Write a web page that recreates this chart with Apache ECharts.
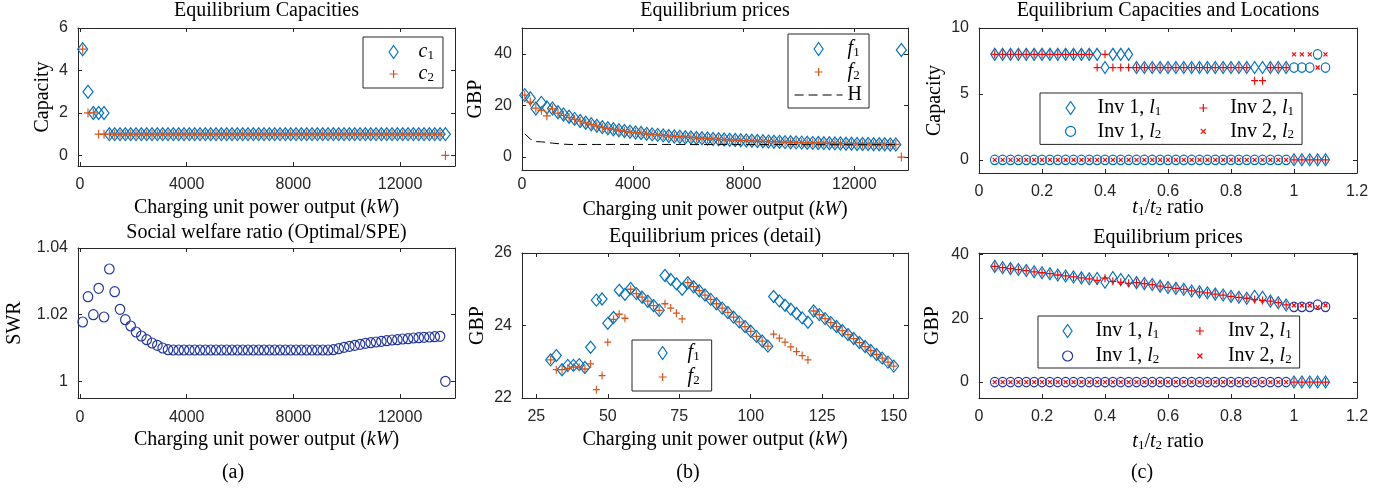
<!DOCTYPE html>
<html>
<head>
<meta charset="UTF-8">
<title>Equilibrium results</title>
<script src="https://cdn.jsdelivr.net/npm/echarts@6/dist/echarts.min.js"></script>
<style>
    html, body { margin: 0; padding: 0; background: #fff; }
    #chart { width: 1396px; height: 490px; }
</style>
</head>
<body>
<div id="chart"></div>
<script>
// ---------- data ----------
// (a)/(b) top: charging unit power output, kW
const powerX = [
    100, 300, 500, 700, 900, 1100, 1300, 1500, 1700, 1900,
    2100, 2300, 2500, 2700, 2900, 3100, 3300, 3500, 3700, 3900,
    4100, 4300, 4500, 4700, 4900, 5100, 5300, 5500, 5700, 5900,
    6100, 6300, 6500, 6700, 6900, 7100, 7300, 7500, 7700, 7900,
    8100, 8300, 8500, 8700, 8900, 9100, 9300, 9500, 9700, 9900,
    10100, 10300, 10500, 10700, 10900, 11100, 11300, 11500, 11700, 11900,
    12100, 12300, 12500, 12700, 12900, 13100, 13300, 13500, 13700
];
const capC1 = [
    5, 3, 2, 2, 2, 1, 1, 1, 1, 1,
    1, 1, 1, 1, 1, 1, 1, 1, 1, 1,
    1, 1, 1, 1, 1, 1, 1, 1, 1, 1,
    1, 1, 1, 1, 1, 1, 1, 1, 1, 1,
    1, 1, 1, 1, 1, 1, 1, 1, 1, 1,
    1, 1, 1, 1, 1, 1, 1, 1, 1, 1,
    1, 1, 1, 1, 1, 1, 1, 1, 1
];
const capC2 = [
    5, 2, 2, 1, 1, 1, 1, 1, 1, 1,
    1, 1, 1, 1, 1, 1, 1, 1, 1, 1,
    1, 1, 1, 1, 1, 1, 1, 1, 1, 1,
    1, 1, 1, 1, 1, 1, 1, 1, 1, 1,
    1, 1, 1, 1, 1, 1, 1, 1, 1, 1,
    1, 1, 1, 1, 1, 1, 1, 1, 1, 1,
    1, 1, 1, 1, 1, 1, 1, 1, 0
];
const swr = [
    1.0178, 1.0254, 1.0200, 1.0279, 1.0193, 1.0337, 1.0269, 1.0216, 1.0185, 1.0166,
    1.0148, 1.0136, 1.0125, 1.0115, 1.0108, 1.0100, 1.0095, 1.0094, 1.0094, 1.0094,
    1.0094, 1.0094, 1.0094, 1.0094, 1.0094, 1.0094, 1.0094, 1.0094, 1.0094, 1.0094,
    1.0094, 1.0094, 1.0094, 1.0094, 1.0094, 1.0094, 1.0094, 1.0094, 1.0094, 1.0094,
    1.0094, 1.0094, 1.0094, 1.0094, 1.0094, 1.0094, 1.0094, 1.0095, 1.0098, 1.0102,
    1.0105, 1.0108, 1.0111, 1.0114, 1.0116, 1.0118, 1.0120, 1.0122, 1.0124, 1.0125,
    1.0127, 1.0128, 1.0130, 1.0131, 1.0132, 1.0133, 1.0134, 1.0135, 1.0000
];
const priceF1 = [
    24.0, 22.8, 18.8, 21.0, 19.2, 18.8, 17.4, 16.5, 15.6, 14.8,
    14.0, 13.3, 12.7, 12.1, 11.6, 11.2, 10.8, 10.4, 10.1, 9.8,
    9.5, 9.3, 9.0, 8.8, 8.6, 8.4, 8.2, 8.0, 7.9, 7.7,
    7.6, 7.4, 7.3, 7.2, 7.0, 6.9, 6.8, 6.7, 6.6, 6.5,
    6.4, 6.3, 6.2, 6.1, 6.0, 5.95, 5.9, 5.8, 5.75, 5.7,
    5.6, 5.55, 5.5, 5.45, 5.4, 5.35, 5.3, 5.25, 5.2, 5.15,
    5.1, 5.1, 5.05, 5.0, 5.0, 4.95, 4.9, 4.9, 41.5
];
const priceF2 = [
    24.0, 21.3, 19.0, 18.1, 16.0, 18.7, 17.0, 16.2, 15.3, 14.6,
    13.9, 13.2, 12.6, 12.0, 11.5, 11.1, 10.7, 10.3, 10.0, 9.7,
    9.5, 9.3, 9.0, 8.8, 8.6, 8.4, 8.2, 8.0, 7.9, 7.7,
    7.6, 7.4, 7.3, 7.2, 7.0, 6.9, 6.8, 6.7, 6.6, 6.5,
    6.4, 6.3, 6.2, 6.1, 6.0, 5.95, 5.9, 5.8, 5.75, 5.7,
    5.6, 5.55, 5.5, 5.45, 5.4, 5.35, 5.3, 5.25, 5.2, 5.15,
    5.1, 5.1, 5.05, 5.0, 5.0, 4.95, 4.9, 4.9, 0
];
// H curve, drawn up to 13500 kW
const priceH = [
    9.0, 7.0, 6.0, 5.9, 5.7, 5.4, 5.2, 5.0, 4.9, 4.9,
    4.9, 4.9, 4.9, 4.9, 4.9, 4.9, 4.9, 4.9, 4.9, 4.9,
    4.9, 4.9, 4.9, 4.9, 4.9, 4.9, 4.9, 4.9, 4.9, 4.9,
    4.85, 4.85, 4.85, 4.85, 4.85, 4.85, 4.85, 4.85, 4.85, 4.85,
    4.85, 4.85, 4.85, 4.85, 4.85, 4.85, 4.85, 4.85, 4.85, 4.85,
    4.8, 4.8, 4.8, 4.8, 4.8, 4.8, 4.8, 4.8, 4.8, 4.8,
    4.8, 4.8, 4.8, 4.8, 4.8, 4.8, 4.8, 4.8
];

// (b) bottom: detail, kW
const detailX = [
    30, 32, 34, 36, 38, 40, 42, 44, 46, 48,
    50, 52, 54, 56, 58, 60, 62, 64, 66, 68,
    70, 72, 74, 76, 78, 80, 82, 84, 86, 88,
    90, 92, 94, 96, 98, 100, 102, 104, 106, 108,
    110, 112, 114, 116, 118, 120, 122, 124, 126, 128,
    130, 132, 134, 136, 138, 140, 142, 144, 146, 148,
    150
];
const detailF1 = [
    23.05, 23.17, 22.78, 22.90, 22.90, 22.92, 22.84, 23.40, 24.70, 24.73,
    24.06, 24.22, 24.97, 24.86, 25.02, 24.88, 24.78, 24.67, 24.55, 24.42,
    25.38, 25.27, 25.15, 25.00, 25.18, 25.07, 24.96, 24.84, 24.72, 24.60,
    24.48, 24.36, 24.23, 24.10, 23.97, 23.84, 23.70, 23.57, 23.43, 24.80,
    24.68, 24.56, 24.45, 24.33, 24.21, 24.09, 24.40, 24.30, 24.19, 24.08,
    23.97, 23.86, 23.75, 23.64, 23.53, 23.42, 23.31, 23.20, 23.10, 22.99,
    22.88
];
const detailF2 = [
    23.05, 22.78, 22.78, 22.82, 22.85, 22.85, 22.80, 22.94, 22.23, 22.62,
    23.54, 24.17, 24.31, 24.20, 25.00, 24.88, 24.78, 24.67, 24.55, 24.42,
    24.60, 24.48, 24.34, 24.18, 25.18, 25.07, 24.96, 24.84, 24.72, 24.60,
    24.48, 24.36, 24.23, 24.10, 23.97, 23.84, 23.70, 23.57, 23.43, 23.76,
    23.65, 23.54, 23.41, 23.28, 23.17, 23.05, 24.40, 24.30, 24.19, 24.08,
    23.97, 23.86, 23.75, 23.64, 23.53, 23.42, 23.31, 23.20, 23.10, 22.99,
    22.88
];

// (c): t1/t2 ratio
const ratioX = [
    0.05, 0.075, 0.1, 0.125, 0.15, 0.175, 0.2, 0.225, 0.25, 0.275,
    0.3, 0.325, 0.35, 0.375, 0.4, 0.425, 0.45, 0.475, 0.5, 0.525,
    0.55, 0.575, 0.6, 0.625, 0.65, 0.675, 0.7, 0.725, 0.75, 0.775,
    0.8, 0.825, 0.85, 0.875, 0.9, 0.925, 0.95, 0.975, 1, 1.025,
    1.05, 1.075, 1.1
];
const capInv1L1 = [
    8, 8, 8, 8, 8, 8, 8, 8, 8, 8,
    8, 8, 8, 8, 7, 8, 8, 8, 7, 7,
    7, 7, 7, 7, 7, 7, 7, 7, 7, 7,
    7, 7, 7, 7, 7, 7, 7, 7, 0, 0,
    0, 0, 0
];
const capInv2L1 = [
    8, 8, 8, 8, 8, 8, 8, 8, 8, 8,
    8, 8, 8, 7, 8, 7, 7, 7, 7, 7,
    7, 7, 7, 7, 7, 7, 7, 7, 7, 7,
    7, 7, 7, 6, 6, 7, 7, 7, 0, 0,
    0, 0, 0
];
const capInv1L2 = [
    0, 0, 0, 0, 0, 0, 0, 0, 0, 0,
    0, 0, 0, 0, 0, 0, 0, 0, 0, 0,
    0, 0, 0, 0, 0, 0, 0, 0, 0, 0,
    0, 0, 0, 0, 0, 0, 0, 0, 7, 7,
    7, 8, 7
];
const capInv2L2 = [
    0, 0, 0, 0, 0, 0, 0, 0, 0, 0,
    0, 0, 0, 0, 0, 0, 0, 0, 0, 0,
    0, 0, 0, 0, 0, 0, 0, 0, 0, 0,
    0, 0, 0, 0, 0, 0, 0, 0, 8, 8,
    8, 7, 8
];
const priceInv1L1 = [
    36.3, 35.9, 35.6, 35.3, 35.0, 34.6, 34.3, 34.0, 33.6, 33.3,
    33.0, 32.7, 32.4, 32.5, 31.3, 32.8, 32.2, 31.8, 31.2, 30.9,
    30.6, 30.1, 29.7, 29.4, 29.1, 28.6, 28.3, 28.0, 27.6, 27.3,
    26.9, 26.6, 26.3, 26.9, 26.6, 25.4, 24.9, 24.2, 0, 0,
    0, 0, 0
];
const priceInv2L1 = [
    36.3, 35.9, 35.6, 35.3, 35.0, 34.6, 34.3, 34.0, 33.6, 33.3,
    33.0, 32.7, 32.4, 31.9, 32.6, 31.6, 31.3, 31.0, 31.2, 30.9,
    30.6, 30.1, 29.7, 29.4, 29.1, 28.6, 28.3, 28.0, 27.6, 27.3,
    26.9, 26.6, 26.3, 25.9, 25.6, 25.4, 24.9, 24.2, 0, 0,
    0, 0, 0
];
const priceInv1L2 = [
    0, 0, 0, 0, 0, 0, 0, 0, 0, 0,
    0, 0, 0, 0, 0, 0, 0, 0, 0, 0,
    0, 0, 0, 0, 0, 0, 0, 0, 0, 0,
    0, 0, 0, 0, 0, 0, 0, 0, 23.6, 23.6,
    23.6, 24.3, 23.6
];
const priceInv2L2 = [
    0, 0, 0, 0, 0, 0, 0, 0, 0, 0,
    0, 0, 0, 0, 0, 0, 0, 0, 0, 0,
    0, 0, 0, 0, 0, 0, 0, 0, 0, 0,
    0, 0, 0, 0, 0, 0, 0, 0, 24.1, 24.1,
    24.1, 23.5, 24.1
];

// tick labels
const powerTicks = [0, 4000, 8000, 12000];
const detailTicks = [25, 50, 75, 100, 125, 150];
const ratioTicks = [0, 0.2, 0.4, 0.6, 0.8, 1, 1.2];
const capTicks = [0, 2, 4, 6];
const swrTicks = [1, 1.02, 1.04];
const gbpTicks = [0, 20, 40];
const detailGbpTicks = [22, 24, 26];
const locCapTicks = [0, 5, 10];

// ---------- style ----------
const SERIF = 'Liberation Serif';
const SANS = 'Liberation Sans';
const AX = '#262626';
const BLUE = '#0072BD';
const ORANGE = '#D95319';
const RED = '#FF0000';
const NAVY = '#23389e';
const PLUS = 'path://M5,0L5,10M0,5L10,5';
const CROSS = 'path://M0,0L10,10M10,0L0,10';

// legend icons drawn in a box of the legend's itemWidth x itemHeight,
// the corner move-to points keep the box so nothing gets stretched
const ICON_H = 14;
function legendIcon(kind, w) {
    const cx = w / 2, cy = ICON_H / 2;
    let d;
    if (kind === 'diamond') {
        d = `M${cx},${cy - 6.5}L${cx + 4.5},${cy}L${cx},${cy + 6.5}L${cx - 4.5},${cy}Z`;
    } else if (kind === 'plus') {
        d = `M${cx},${cy - 4}L${cx},${cy + 4}M${cx - 4},${cy}L${cx + 4},${cy}`;
    } else if (kind === 'cross') {
        d = `M${cx - 2.5},${cy - 2.5}L${cx + 2.5},${cy + 2.5}M${cx + 2.5},${cy - 2.5}L${cx - 2.5},${cy + 2.5}`;
    } else {
        d = `M${cx - 5},${cy}A5,5 0 1 1 ${cx + 5},${cy}A5,5 0 1 1 ${cx - 5},${cy}Z`;
    }
    return `path://M0,0${d}M${w},${ICON_H}`;
}

const RICH = {
    n: { fontFamily: SERIF, fontSize: 20, lineHeight: 20, color: '#000' },
    i: { fontFamily: SERIF, fontSize: 20, lineHeight: 20, fontStyle: 'italic', color: '#000' },
    s: { fontFamily: SERIF, fontSize: 13, lineHeight: 10, verticalAlign: 'bottom', color: '#000' }
};
const kwName = '{n|Charging unit power output (}{i|kW}{n|)}';
const ratioName = '{i|t}{s|1}{n|/}{i|t}{s|2}{n| ratio}';

const panels = [
    { grid: [78, 28, 377, 138], x: [-75, 14060], xt: powerTicks, y: [-0.5, 6], yt: capTicks,
      xName: kwName, yName: 'Capacity', lm: 11, xg: 32, yg: 25 },
    { grid: [78, 248, 377, 150], x: [-75, 14060], xt: powerTicks, y: [0.995, 1.04], yt: swrTicks,
      xName: kwName, yName: 'SWR', lm: 12, xg: 32, yg: 53 },
    { grid: [522, 28, 386, 142], x: [0, 13940], xt: powerTicks, y: [-5, 50], yt: gbpTicks,
      xName: kwName, yName: 'GBP', lm: 7, xg: 30, yg: 36 },
    { grid: [522, 253, 386, 145], x: [20, 155], xt: detailTicks, y: [22, 26], yt: detailGbpTicks,
      xName: kwName, yName: 'GBP', lm: 11, xg: 32, yg: 34 },
    { grid: [979, 28, 378, 145], x: [0, 1.2], xt: ratioTicks, y: [-1, 10], yt: locCapTicks,
      xName: ratioName, yName: 'Capacity', lm: 11, xg: 25, yg: 34 },
    { grid: [979, 253, 378, 145], x: [0, 1.2], xt: ratioTicks, y: [-5, 40.5], yt: gbpTicks,
      xName: ratioName, yName: 'GBP', lm: 11, xg: 34, yg: 36 }
];

function makeAxis(gi, position, range, ticks, p) {
    const main = !!p;
    const isX = position === 'bottom' || position === 'top';
    const axis = {
        type: 'value', gridIndex: gi, position: position,
        min: range[0], max: range[1],
        axisLine: { show: true, onZero: false, lineStyle: { color: AX, width: 1 } },
        axisTick: { show: true, inside: true, length: 4, customValues: ticks, lineStyle: { color: AX, width: 1 } },
        axisLabel: { show: main, customValues: ticks, fontFamily: SANS, fontSize: 16, color: AX,
                     margin: main ? (isX ? p.lm : 10) : 8,
                     formatter: v => String(v) },
        splitLine: { show: false },
        nameMoveOverlap: false
    };
    if (main) {
        axis.nameLocation = 'middle';
        if (isX) {
            axis.name = p.xName;
            axis.nameGap = p.xg;
            axis.nameTextStyle = { rich: RICH };
        } else {
            axis.name = p.yName;
            axis.nameGap = p.yg;
            axis.nameRotate = 90;
            axis.nameTextStyle = { fontFamily: SERIF, fontSize: 20, color: '#000' };
        }
    }
    return axis;
}

const grid = [], xAxis = [], yAxis = [];
panels.forEach((p, i) => {
    grid.push({ left: p.grid[0], top: p.grid[1], width: p.grid[2], height: p.grid[3] });
    xAxis.push(makeAxis(i, 'bottom', p.x, p.xt, p));
    yAxis.push(makeAxis(i, 'left', p.y, p.yt, p));
});
panels.forEach((p, i) => {
    xAxis.push(makeAxis(i, 'top', p.x, p.xt, null));
    yAxis.push(makeAxis(i, 'right', p.y, p.yt, null));
});

function pts(xs, ys) {
    return ys.map((v, k) => [xs[k], v]);
}
function scatter(name, gi, xs, ys, symbol, size, color) {
    return {
        type: 'scatter', name: name, xAxisIndex: gi, yAxisIndex: gi,
        data: pts(xs, ys), symbol: symbol, symbolSize: size, silent: true,
        itemStyle: { color: 'rgba(0,0,0,0)', borderColor: color, borderWidth: 1.2, opacity: 1 }
    };
}

const series = [
    scatter('c1', 0, powerX, capC1, 'diamond', [10, 13], BLUE),
    scatter('c2', 0, powerX, capC2, PLUS, [8, 9], ORANGE),
    scatter('swr', 1, powerX, swr, 'circle', [9.5, 10], NAVY),
    {
        type: 'line', name: 'H', xAxisIndex: 2, yAxisIndex: 2, silent: true,
        data: pts(powerX, priceH), symbol: 'none',
        itemStyle: { color: 'rgba(0,0,0,0)', borderColor: 'rgba(0,0,0,0)' },
        lineStyle: { color: '#000', width: 1, type: [9, 5] }
    },
    scatter('f1', 2, powerX, priceF1, 'diamond', [10, 13], BLUE),
    scatter('f2', 2, powerX, priceF2, PLUS, [8, 9], ORANGE),
    scatter('f1d', 3, detailX, detailF1, 'diamond', [10, 12], BLUE),
    scatter('f2d', 3, detailX, detailF2, PLUS, [7, 8], ORANGE),
    scatter('capI1L1', 4, ratioX, capInv1L1, 'diamond', [8, 12], BLUE),
    scatter('capI1L2', 4, ratioX, capInv1L2, 'circle', [8.5, 9.5], BLUE),
    scatter('capI2L1', 4, ratioX, capInv2L1, PLUS, [7, 8], RED),
    scatter('capI2L2', 4, ratioX, capInv2L2, CROSS, [4, 4], RED),
    scatter('prI1L1', 5, ratioX, priceInv1L1, 'diamond', [8, 12], BLUE),
    scatter('prI1L2', 5, ratioX, priceInv1L2, 'circle', [8.5, 9.5], NAVY),
    scatter('prI2L1', 5, ratioX, priceInv2L1, PLUS, [7, 8], RED),
    scatter('prI2L2', 5, ratioX, priceInv2L2, CROSS, [4, 4], RED)
];

// legend labels (rich text); sA / sB pad the first column of the (c) legends
const LEG_RICH = Object.assign({}, RICH, {
    sA: { fontFamily: SERIF, fontSize: 13, lineHeight: 10, verticalAlign: 'bottom', color: '#000', padding: [0, 16, 0, 0] },
    sB: { fontFamily: SERIF, fontSize: 13, lineHeight: 10, verticalAlign: 'bottom', color: '#000', padding: [0, 12, 0, 0] }
});
const legendLabel = {
    c1: '{i|c}{s|1}', c2: '{i|c}{s|2}',
    f1: '{i|f}{s|1}', f2: '{i|f}{s|2}', H: '{n|H}',
    f1d: '{i|f}{s|1}', f2d: '{i|f}{s|2}',
    capI1L1: '{n|Inv 1, }{i|l}{sA|1}', capI2L1: '{n|Inv 2, }{i|l}{s|1}',
    capI1L2: '{n|Inv 1, }{i|l}{sA|2}', capI2L2: '{n|Inv 2, }{i|l}{s|2}',
    prI1L1: '{n|Inv 1, }{i|l}{sB|1}', prI2L1: '{n|Inv 2, }{i|l}{s|1}',
    prI1L2: '{n|Inv 1, }{i|l}{sB|2}', prI2L2: '{n|Inv 2, }{i|l}{s|2}'
};

function legend(left, top, padding, itemWidth, itemGap, items, extra) {
    return Object.assign({
        left: left, top: top, padding: padding, orient: 'vertical',
        itemWidth: itemWidth, itemHeight: ICON_H, itemGap: itemGap,
        borderColor: AX, borderWidth: 1, backgroundColor: '#fff',
        selectedMode: false,
        data: items.map(it => it[1] ? { name: it[0], icon: legendIcon(it[1], itemWidth) } : { name: it[0] }),
        itemStyle: { borderWidth: 1.2 },
        lineStyle: { width: 1 },
        textStyle: { rich: LEG_RICH },
        formatter: name => legendLabel[name]
    }, extra || {});
}

const legends = [
    legend(363, 37, [5, 9, 4, 10], 40, 2, [['c1', 'diamond'], ['c2', 'plus']]),
    legend(788, 34, [5, 7, 3, 6], 48, 3, [['f1', 'diamond'], ['f2', 'plus'], ['H', null]]),
    legend(632, 340, [3, 12, 4, 10], 40, 4, [['f1d', 'diamond'], ['f2d', 'plus']]),
    legend(1040, 93, [5, 8, 3, 8], 44, 3.4,
        [['capI1L1', 'diamond'], ['capI2L1', 'plus'], ['capI1L2', 'circle'], ['capI2L2', 'cross']],
        { orient: 'horizontal', width: 250 }),
    legend(1038, 316, [5, 8, 2, 6], 46, 5,
        [['prI1L1', 'diamond'], ['prI2L1', 'plus'], ['prI1L2', 'circle'], ['prI2L2', 'cross']],
        { orient: 'horizontal', width: 250 })
];

const titleList = [
    ['Equilibrium Capacities', 266.5, 11],
    ['Social welfare ratio (Optimal/SPE)', 266.5, 233],
    ['Equilibrium prices', 715, 11],
    ['Equilibrium prices (detail)', 715, 237],
    ['Equilibrium Capacities and Locations', 1168, 11],
    ['Equilibrium prices', 1168, 238],
    ['(a)', 233, 473],
    ['(b)', 688, 473],
    ['(c)', 1142, 473]
];

const chart = echarts.init(document.getElementById('chart'), null, { renderer: 'canvas' });
chart.setOption({
    animation: false,
    backgroundColor: '#fff',
    grid: grid,
    xAxis: xAxis,
    yAxis: yAxis,
    legend: legends,
    series: series,
    graphic: titleList.map(t => ({
        type: 'text', x: t[1], y: t[2], silent: true,
        style: { text: t[0], fontFamily: SERIF, fontSize: 20, fill: '#000', align: 'center', verticalAlign: 'middle' }
    }))
});
</script>
</body>
</html>
